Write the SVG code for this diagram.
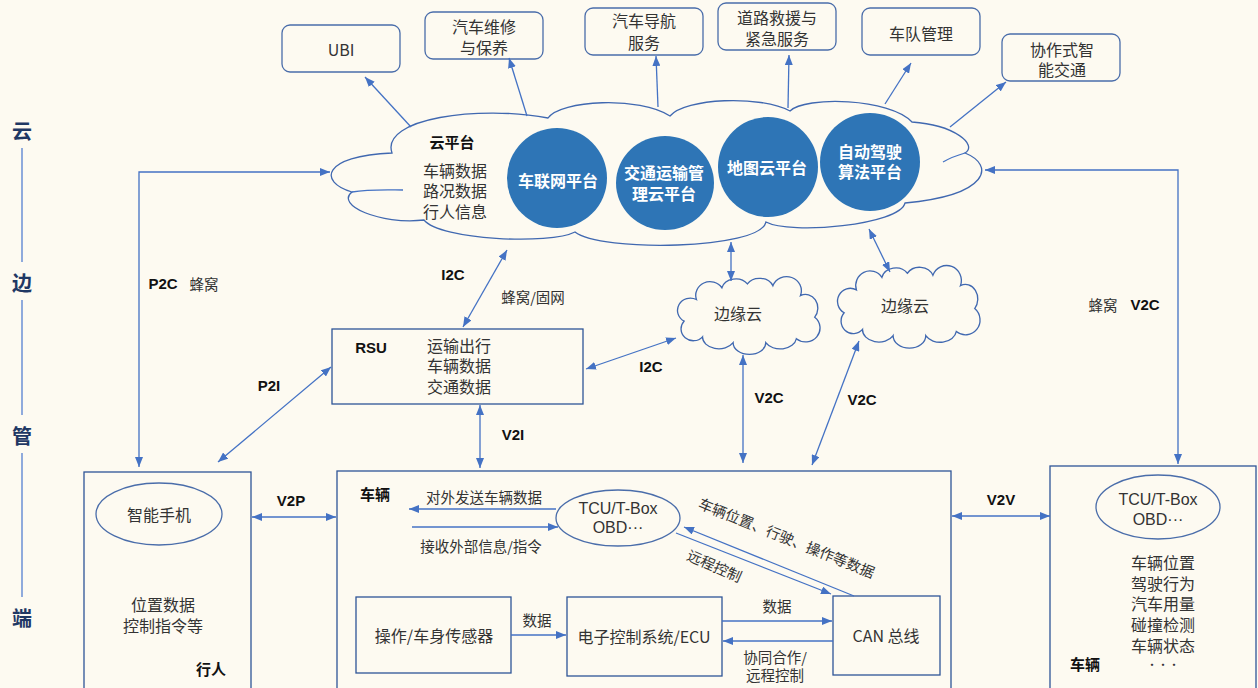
<svg xmlns="http://www.w3.org/2000/svg" width="1258" height="688" viewBox="0 0 1258 688">
<defs>
<style>
.bg{fill:#FDFAF1}
.box{fill:#FDFAF1;stroke:#2F5597;stroke-width:1.3}
.rbox{fill:#FDFAF1;stroke:#4A6DAA;stroke-width:1.3}
.cloud{fill:#FDFAF1;stroke:#4068B0;stroke-width:1.3}
.disc{fill:#2E75B6}
.conn{stroke:#4472C4;stroke-width:1.3;fill:none}
.axl{stroke:#8FAADC;stroke-width:2}
.t{font-family:"Noto Sans CJK SC","Liberation Sans",sans-serif;font-size:16px;fill:#333;text-anchor:middle;dominant-baseline:central}
.lat{font-family:"Liberation Sans","Noto Sans CJK SC",sans-serif;font-size:16px;fill:#333;text-anchor:middle;dominant-baseline:central}
.s{font-size:14.5px}
.b{font-family:"Liberation Sans","Noto Sans CJK SC",sans-serif;font-weight:bold;font-size:15px;fill:#111;text-anchor:middle;dominant-baseline:central}
.bc{font-family:"Noto Sans CJK SC",sans-serif;font-weight:bold;font-size:15px;fill:#111;text-anchor:middle;dominant-baseline:central}
.w{font-family:"Noto Sans CJK SC",sans-serif;font-weight:bold;font-size:16px;fill:#fff;text-anchor:middle;dominant-baseline:central}
.ax{font-family:"Noto Sans CJK SC",sans-serif;font-weight:bold;font-size:20px;fill:#1F3864;text-anchor:middle;dominant-baseline:central}
</style>
<marker id="ah" markerWidth="10" markerHeight="8" refX="10" refY="4" orient="auto-start-reverse" markerUnits="userSpaceOnUse"><path d="M0,0 L10,4 L0,8 Z" fill="#4472C4"/></marker>
<path id="smallcloud" d="M20,22 A14,14 0 0 1 45,10 A14,12 0 0 1 70,6 A14,12 0 0 1 95,8 A14,14 0 0 1 122,18 A12,14 0 0 1 136,40 A12,12 0 0 1 118,62 A16,12 0 0 1 88,66 A16,12 0 0 1 56,66 A16,12 0 0 1 26,60 A12,12 0 0 1 8,44 A12,12 0 0 1 20,22 Z"/>
</defs>
<rect class="bg" x="0" y="0" width="1258" height="688"/>

<g id="axis">
<text class="ax" x="22" y="130">云</text>
<line class="axl" x1="22" y1="148" x2="22" y2="262"/>
<text class="ax" x="22" y="282">边</text>
<line class="axl" x1="22" y1="300" x2="22" y2="415"/>
<text class="ax" x="22" y="435">管</text>
<line class="axl" x1="22" y1="453" x2="22" y2="597"/>
<text class="ax" x="22" y="617">端</text>
</g>

<g id="services">
<g id="ubi"><rect class="rbox" x="282" y="25" width="118" height="47" rx="8"/><text class="t" x="341" y="49">UBI</text></g>
<g id="maintenance"><rect class="rbox" x="425" y="12" width="118" height="47" rx="8"/><text class="t" x="484" y="26">汽车维修<tspan x="484" dy="21">与保养</tspan></text></g>
<g id="navigation"><rect class="rbox" x="585" y="8" width="118" height="47" rx="8"/><text class="t" x="644" y="20">汽车导航<tspan x="644" dy="22">服务</tspan></text></g>
<g id="rescue"><rect class="rbox" x="718" y="3" width="118" height="47" rx="8"/><text class="t" x="777" y="17">道路救援与<tspan x="777" dy="21">紧急服务</tspan></text></g>
<g id="fleet"><rect class="rbox" x="862" y="8" width="118" height="47" rx="8"/><text class="t" x="921" y="33">车队管理</text></g>
<g id="its"><rect class="rbox" x="1002" y="34" width="118" height="47" rx="8"/><text class="t" x="1062" y="49">协作式智<tspan x="1062" dy="20">能交通</tspan></text></g>
</g>

<g id="cloud-platform">
<path class="cloud" d="M352,192 C318,182 322,156 392,153 C380,118 480,105 548,118 C560,100 640,96 670,116 C685,98 760,95 790,111 C805,96 890,98 912,122 C955,125 978,145 965,153 C995,165 990,195 905,203 C900,225 790,235 766,222 C760,250 600,252 575,232 C550,245 440,240 424,220 C380,225 335,205 352,192 Z"/>
<path class="conn" d="M352,192 C370,189 390,190 403,190 M943,162 C950,158 958,155 965,153"/>
<text class="bc" x="452" y="141">云平台</text>
<text class="t" x="455" y="170">车辆数据<tspan x="455" dy="20">路况数据</tspan><tspan x="455" dy="21">行人信息</tspan></text>
</g>

<g id="iov-platform"><ellipse class="disc" cx="557" cy="178" rx="50" ry="50"/><text class="w" x="558" y="180">车联网平台</text></g>
<g id="traffic-platform"><ellipse class="disc" cx="665" cy="183" rx="49" ry="47"/><text class="w" x="664" y="172">交通运输管<tspan x="664" dy="21">理云平台</tspan></text></g>
<g id="map-platform"><ellipse class="disc" cx="768" cy="167" rx="50" ry="50"/><text class="w" x="767" y="167">地图云平台</text></g>
<g id="ad-platform"><ellipse class="disc" cx="870" cy="162" rx="50" ry="49"/><text class="w" x="870" y="151">自动驾驶<tspan x="870" dy="20">算法平台</tspan></text></g>

<g id="edge-cloud-1"><use href="#smallcloud" class="cloud" transform="translate(676,278) scale(1.02,0.98)"/><text class="t" x="738" y="313">边缘云</text></g>
<g id="edge-cloud-2"><use href="#smallcloud" class="cloud" transform="translate(836,267) scale(1.02,1.04)"/><text class="t" x="905" y="305">边缘云</text></g>

<g id="rsu">
<rect class="box" x="332" y="329" width="251" height="75"/>
<text class="b" x="371" y="347">RSU</text>
<text class="t" x="459" y="345">运输出行<tspan x="459" dy="20">车辆数据</tspan><tspan x="459" dy="21">交通数据</tspan></text>
</g>

<g id="pedestrian">
<rect class="box" x="84" y="472" width="167" height="230"/>
<ellipse class="rbox" cx="159" cy="514" rx="63" ry="31"/>
<text class="t" x="159" y="514">智能手机</text>
<text class="t" x="163" y="604">位置数据<tspan x="163" dy="21">控制指令等</tspan></text>
<text class="bc" x="211" y="668">行人</text>
</g>

<g id="vehicle">
<rect class="box" x="337" y="471" width="614" height="240"/>
<text class="bc" x="375" y="493">车辆</text>
<ellipse class="rbox" cx="618" cy="518" rx="62" ry="28"/>
<text class="lat" x="618" y="508">TCU/T-Box<tspan x="618" dy="19">OBD···</tspan></text>
</g>

<g id="sensors"><rect class="box" x="356" y="597" width="155" height="76"/><text class="t" x="434" y="635">操作/车身传感器</text></g>
<g id="ecu"><rect class="box" x="567" y="597" width="155" height="79"/><text class="t" x="644" y="636">电子控制系统/ECU</text></g>
<g id="can"><rect class="box" x="833" y="596" width="107" height="79"/><text class="t" x="886" y="635">CAN 总线</text></g>

<g id="vehicle-2">
<rect class="box" x="1050" y="466" width="206" height="236"/>
<ellipse class="rbox" cx="1158" cy="507" rx="62" ry="32"/>
<text class="lat" x="1158" y="499">TCU/T-Box<tspan x="1158" dy="20">OBD···</tspan></text>
<text class="t" x="1163" y="562">车辆位置<tspan x="1163" dy="21">驾驶行为</tspan><tspan x="1163" dy="20">汽车用量</tspan><tspan x="1163" dy="21">碰撞检测</tspan><tspan x="1163" dy="21">车辆状态</tspan><tspan x="1163" dy="19" style="font-size:11px">···</tspan></text>
<text class="bc" x="1085" y="663">车辆</text>
</g>

<g id="connectors">
<line class="conn" x1="411" y1="127" x2="365" y2="77" marker-end="url(#ah)"/>
<line class="conn" x1="527" y1="116" x2="509" y2="58" marker-end="url(#ah)"/>
<line class="conn" x1="658" y1="107" x2="656" y2="56" marker-end="url(#ah)"/>
<line class="conn" x1="788" y1="108" x2="789" y2="55" marker-end="url(#ah)"/>
<line class="conn" x1="885" y1="104" x2="911" y2="63" marker-end="url(#ah)"/>
<line class="conn" x1="950" y1="127" x2="1006" y2="82" marker-end="url(#ah)"/>
<polyline class="conn" points="139,467 139,172 330,172" marker-start="url(#ah)" marker-end="url(#ah)"/>
<line class="conn" x1="218" y1="462" x2="331" y2="367" marker-start="url(#ah)" marker-end="url(#ah)"/>
<line class="conn" x1="463" y1="327" x2="507" y2="250" marker-start="url(#ah)" marker-end="url(#ah)"/>
<line class="conn" x1="731" y1="242" x2="731" y2="281" marker-start="url(#ah)" marker-end="url(#ah)"/>
<line class="conn" x1="869" y1="229" x2="890" y2="272" marker-start="url(#ah)" marker-end="url(#ah)"/>
<line class="conn" x1="586" y1="369" x2="676" y2="338" marker-start="url(#ah)" marker-end="url(#ah)"/>
<line class="conn" x1="480" y1="405" x2="480" y2="468" marker-start="url(#ah)" marker-end="url(#ah)"/>
<line class="conn" x1="743" y1="355" x2="743" y2="463" marker-start="url(#ah)" marker-end="url(#ah)"/>
<line class="conn" x1="859" y1="341" x2="812" y2="465" marker-start="url(#ah)" marker-end="url(#ah)"/>
<polyline class="conn" points="985,170 1178,170 1178,464" marker-start="url(#ah)" marker-end="url(#ah)"/>
<line class="conn" x1="252" y1="517" x2="336" y2="517" marker-start="url(#ah)" marker-end="url(#ah)"/>
<line class="conn" x1="952" y1="516" x2="1050" y2="516" marker-start="url(#ah)" marker-end="url(#ah)"/>
<line class="conn" x1="556" y1="509" x2="409" y2="509" marker-end="url(#ah)"/>
<line class="conn" x1="412" y1="527" x2="558" y2="527" marker-end="url(#ah)"/>
<line class="conn" x1="676" y1="533" x2="831" y2="594" marker-end="url(#ah)"/>
<line class="conn" x1="854" y1="596" x2="684" y2="527" marker-end="url(#ah)"/>
<line class="conn" x1="511" y1="635" x2="566" y2="635" marker-end="url(#ah)"/>
<line class="conn" x1="722" y1="621" x2="832" y2="621" marker-end="url(#ah)"/>
<line class="conn" x1="833" y1="641" x2="723" y2="641" marker-end="url(#ah)"/>
</g>

<g id="connector-labels">
<text class="b" x="163" y="283">P2C</text>
<text class="t s" x="204" y="283">蜂窝</text>
<text class="b" x="269" y="385">P2I</text>
<text class="b" x="453" y="274">I2C</text>
<text class="t s" x="533" y="296">蜂窝/固网</text>
<text class="b" x="651" y="366">I2C</text>
<text class="b" x="513" y="434">V2I</text>
<text class="b" x="769" y="397">V2C</text>
<text class="b" x="862" y="399">V2C</text>
<text class="t s" x="1103" y="304">蜂窝</text>
<text class="b" x="1145" y="304">V2C</text>
<text class="b" x="291" y="500">V2P</text>
<text class="b" x="1001" y="499">V2V</text>
<text class="t s" x="484" y="496">对外发送车辆数据</text>
<text class="t s" x="481" y="545">接收外部信息/指令</text>
<text class="t s" x="787" y="537" transform="rotate(22 787 537)">车辆位置、行驶、操作等数据</text>
<text class="t s" x="715" y="565" transform="rotate(24 715 565)">远程控制</text>
<text class="t s" x="537" y="619">数据</text>
<text class="t s" x="777" y="605">数据</text>
<text class="t s" x="775" y="656">协同合作/<tspan x="775" dy="18">远程控制</tspan></text>
</g>
</svg>
